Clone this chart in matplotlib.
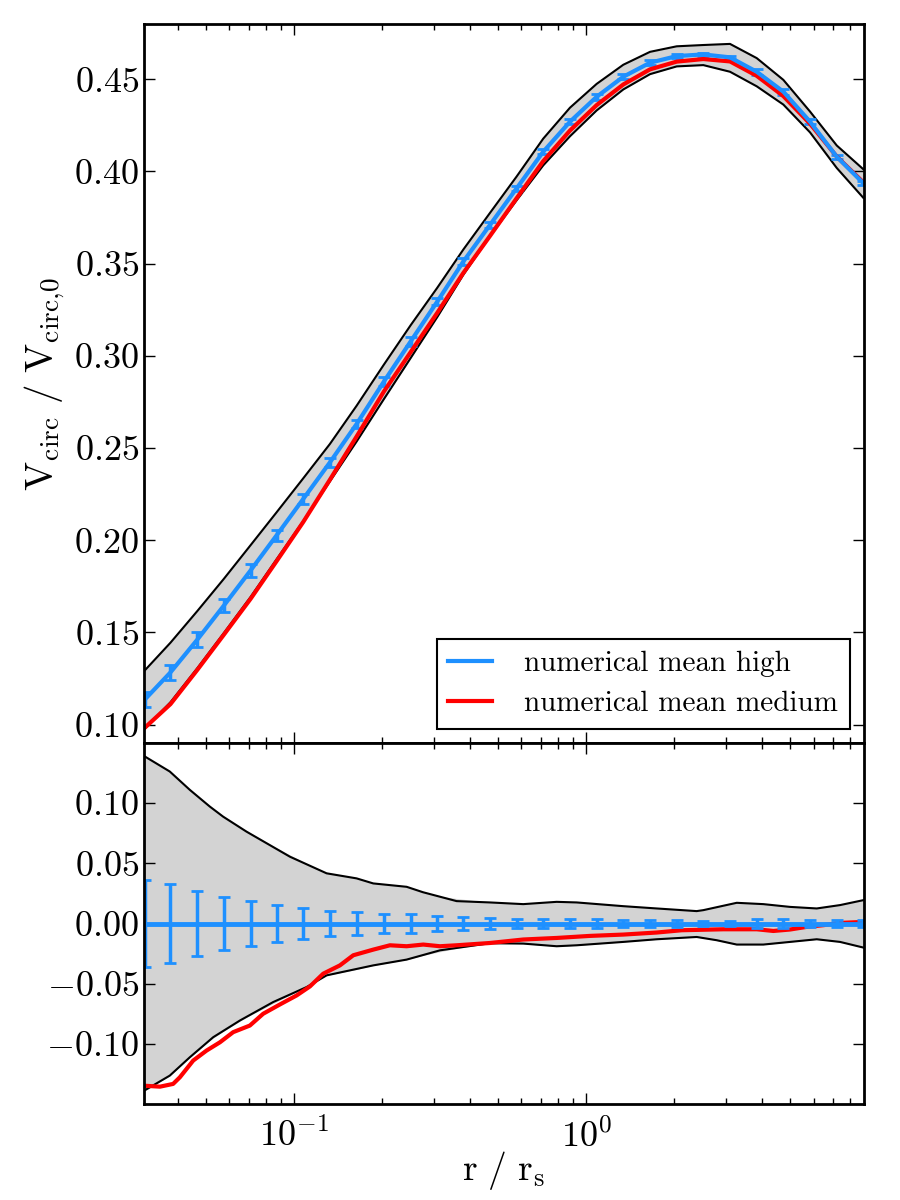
import numpy as np
import matplotlib
matplotlib.use("Agg")
import matplotlib.pyplot as plt
from matplotlib.lines import Line2D

plt.rcParams['font.family'] = 'serif'
plt.rcParams['font.serif'] = ['cmr10', 'DejaVu Serif']
plt.rcParams['mathtext.fontset'] = 'cm'
plt.rcParams['axes.formatter.use_mathtext'] = True
plt.rcParams['axes.unicode_minus'] = True

#---------------------------------------------------------------------------------------------
# Data

# radial bins where the error bars sit [r / r_s]
r_bins = [0.0308, 0.0377, 0.0466, 0.0574, 0.0709, 0.0870, 0.1073, 0.1325, 0.1635, 0.2029,
          0.2504, 0.3088, 0.3791, 0.4679, 0.5776, 0.7121, 0.8794, 1.085, 1.339, 1.653,
          2.040, 2.516, 3.105, 3.833, 4.728, 5.836, 7.204, 8.884]

# top panel, V_circ / V_circ,0
v_high = [0.1136, 0.1283, 0.1461, 0.1645, 0.1836, 0.2026, 0.2223, 0.2422, 0.2630, 0.2861,
          0.3078, 0.3294, 0.3511, 0.3710, 0.3909, 0.4107, 0.4270, 0.4405, 0.4514, 0.4590,
          0.4626, 0.4635, 0.4619, 0.4541, 0.4433, 0.4270, 0.4080, 0.3936]
v_high_err = [0.0040, 0.0042, 0.0040, 0.0037, 0.0034, 0.0031, 0.0028, 0.0025, 0.0024, 0.0024,
              0.0023, 0.0020, 0.0018, 0.0016, 0.0014, 0.0014, 0.0015, 0.0015, 0.0015, 0.0013,
              0.0013, 0.0010, 0.0009, 0.0016, 0.0016, 0.0012, 0.0011, 0.0012]
v_medium = [0.0983, 0.1111, 0.1297, 0.1487, 0.1682, 0.1886, 0.2098, 0.2328, 0.2562, 0.2807,
            0.3020, 0.3233, 0.3449, 0.3650, 0.3855, 0.4056, 0.4222, 0.4360, 0.4472, 0.4554,
            0.4596, 0.4610, 0.4597, 0.4519, 0.4409, 0.4259, 0.4081, 0.3941]
v_band_hi = [0.1294, 0.1444, 0.1616, 0.1790, 0.1973, 0.2151, 0.2335, 0.2522, 0.2729, 0.2953,
             0.3166, 0.3369, 0.3576, 0.3775, 0.3973, 0.4178, 0.4346, 0.4475, 0.4579, 0.4649,
             0.4679, 0.4686, 0.4692, 0.4615, 0.4497, 0.4325, 0.4141, 0.4012]
v_band_lo = [0.0978, 0.1121, 0.1306, 0.1496, 0.1692, 0.1896, 0.2103, 0.2319, 0.2535, 0.2766,
             0.2988, 0.3210, 0.3439, 0.3649, 0.3844, 0.4033, 0.4191, 0.4331, 0.4445, 0.4528,
             0.4570, 0.4577, 0.4541, 0.4462, 0.4363, 0.4212, 0.4019, 0.3857]

# bottom panel, relative difference
rel_err = [0.0358, 0.0327, 0.0271, 0.0222, 0.0186, 0.0153, 0.0125, 0.0105, 0.0092, 0.0083,
           0.0075, 0.0061, 0.0050, 0.0042, 0.0035, 0.0035, 0.0035, 0.0035, 0.0033, 0.0028,
           0.0028, 0.0022, 0.0020, 0.0035, 0.0035, 0.0028, 0.0028, 0.0030]

r_hi = [0.0308, 0.0375, 0.0439, 0.0514, 0.0571, 0.0687, 0.0967, 0.1291, 0.1635, 0.1865,
        0.2426, 0.2759, 0.3598, 0.4679, 0.6085, 0.7918, 0.9271, 1.339, 1.742, 2.388,
        2.516, 3.274, 4.038, 4.985, 6.152, 7.393, 8.884]
rel_hi = [0.1388, 0.1263, 0.1111, 0.0972, 0.0888, 0.0763, 0.0555, 0.0417, 0.0375, 0.0333,
          0.0305, 0.0260, 0.0186, 0.0175, 0.0161, 0.0180, 0.0175, 0.0144, 0.0125, 0.0103,
          0.0111, 0.0172, 0.0161, 0.0138, 0.0125, 0.0153, 0.0194]

r_lo = [0.0306, 0.0375, 0.0439, 0.0528, 0.0652, 0.0847, 0.1103, 0.1291, 0.1865, 0.2426,
        0.3155, 0.4679, 0.6085, 0.7918, 0.9271, 1.339, 1.742, 2.388, 2.797, 3.274,
        4.038, 4.985, 6.152, 7.393, 8.884]
rel_lo = [-0.1390, -0.1264, -0.1112, -0.0945, -0.0806, -0.0653, -0.0528, -0.0431, -0.0348, -0.0300,
          -0.0223, -0.0164, -0.0167, -0.0189, -0.0181, -0.0153, -0.0131, -0.0112, -0.0139, -0.0175,
          -0.0175, -0.0153, -0.0131, -0.0153, -0.0200]

r_med = [0.0306, 0.0347, 0.0385, 0.0406, 0.0451, 0.0501, 0.0557, 0.0618, 0.0705, 0.0783,
         0.0893, 0.1019, 0.1132, 0.1257, 0.1434, 0.1593, 0.1865, 0.2127, 0.2426, 0.2766,
         0.3155, 0.3598, 0.4679, 0.6085, 0.7918, 1.030, 1.339, 1.742, 2.121, 2.946,
         3.833, 4.370, 4.985, 5.686, 6.482, 7.393, 8.884]
rel_med = [-0.1348, -0.1356, -0.1333, -0.1278, -0.1139, -0.1056, -0.0987, -0.0903, -0.0848, -0.0750,
           -0.0673, -0.0598, -0.0523, -0.0417, -0.0348, -0.0264, -0.0217, -0.0181, -0.0189, -0.0175,
           -0.0189, -0.0181, -0.0162, -0.0133, -0.0120, -0.0103, -0.0092, -0.0075, -0.0056, -0.0048,
           -0.0048, -0.0062, -0.0050, -0.0028, -0.0014, 0.0005, 0.0013]

labels = ['numerical mean high', 'numerical mean medium']

#---------------------------------------------------------------------------------------------
# Plot

blue = '#1e90ff'
fig = plt.figure(figsize=(9, 12), dpi=100)
ax1 = fig.add_axes([0.16, 0.38083, 0.80, 0.59917])
ax2 = fig.add_axes([0.16, 0.08, 0.80, 0.30083], sharex=ax1)

ax1.fill_between(r_bins, v_band_lo, v_band_hi, color='lightgray', lw=0)
ax1.plot(r_bins, v_band_hi, color='k', lw=1.5)
ax1.plot(r_bins, v_band_lo, color='k', lw=1.5)
ax1.errorbar(r_bins, v_high, yerr=v_high_err, color=blue, lw=3, elinewidth=2.5,
             capsize=4, capthick=2)
ax1.plot(r_bins, v_medium, color='red', lw=3)

ax2.fill_between(r_hi, rel_hi, np.interp(r_hi, r_lo, rel_lo), color='lightgray', lw=0)
ax2.fill_between(r_lo, np.interp(r_lo, r_hi, rel_hi), rel_lo, color='lightgray', lw=0)
ax2.plot(r_hi, rel_hi, color='k', lw=1.5)
ax2.plot(r_lo, rel_lo, color='k', lw=1.5)
ax2.plot(r_med, rel_med, color='red', lw=3)
ax2.errorbar(r_bins, np.zeros(len(r_bins)), yerr=rel_err, color=blue, lw=3.5, elinewidth=2.5,
             capsize=4.5, capthick=2)

ax1.set_xscale('log')
ax1.set_xlim(0.0306, 8.93)
ax1.set_ylim(0.09, 0.48)
ax2.set_ylim(-0.15, 0.15)
ax1.set_yticks([0.10, 0.15, 0.20, 0.25, 0.30, 0.35, 0.40, 0.45])
ax2.set_yticks([-0.10, -0.05, 0.00, 0.05, 0.10])
ax1.yaxis.set_major_formatter(matplotlib.ticker.FormatStrFormatter(r'$%.2f$'))
ax2.yaxis.set_major_formatter(matplotlib.ticker.FormatStrFormatter(r'$%.2f$'))
plt.setp(ax1.get_xticklabels(), visible=False)

for ax in (ax1, ax2):
    ax.tick_params(which='both', direction='in', top=True, right=True, labelsize=26)
    ax.tick_params(which='major', length=8, width=1)
    ax.tick_params(which='minor', length=4, width=1)
    for s in ax.spines.values():
        s.set_linewidth(2)
ax2.tick_params(axis='x', which='major', pad=10)

ax1.set_ylabel(r'$\mathrm{V_{circ}\ /\ V_{circ,\!0}}$', fontsize=28, labelpad=5)
ax2.set_xlabel(r'$\mathrm{r\ /\ r_s}$', fontsize=27, labelpad=-3)

handles = [Line2D([], [], color=blue, lw=3), Line2D([], [], color='red', lw=3)]
leg = ax1.legend(handles, labels, loc='lower right', bbox_to_anchor=(0.98, 0.02),
                 borderaxespad=0, fontsize=21, handlelength=1.5, handletextpad=1.1,
                 labelspacing=0.45, fancybox=False, framealpha=1, edgecolor='k')
leg.get_frame().set_linewidth(1.5)

plt.savefig('out.png', dpi=100)
